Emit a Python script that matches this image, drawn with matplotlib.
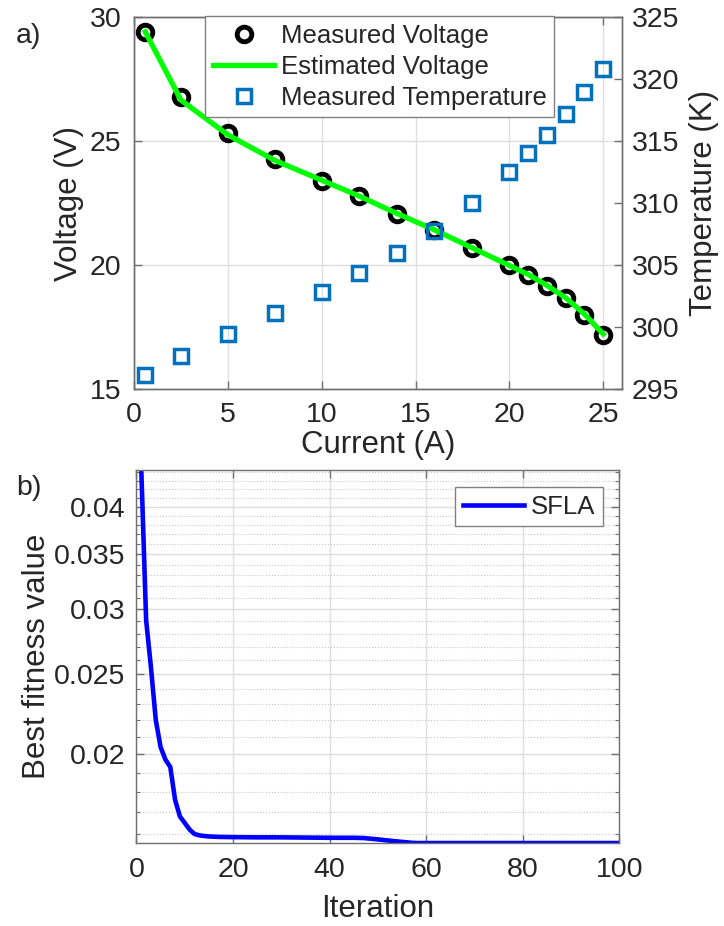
import numpy as np
import matplotlib
matplotlib.use("Agg")
import matplotlib.pyplot as plt
from matplotlib.ticker import FixedLocator, FixedFormatter, NullFormatter

plt.rcParams['font.family'] = ['Liberation Sans', 'DejaVu Sans']
plt.rcParams['text.color'] = '#262626'
plt.rcParams['axes.labelcolor'] = '#262626'
plt.rcParams['xtick.color'] = '#262626'
plt.rcParams['ytick.color'] = '#262626'

# a) polarisation data
current = [0.6, 2.5, 5, 7.5, 10, 12, 14, 16, 18, 20, 21, 22, 23, 24, 25]
v_measured = [29.38, 26.79, 25.31, 24.26, 23.40, 22.78, 22.04, 21.42, 20.67,
              20.00, 19.60, 19.15, 18.66, 17.98, 17.18]
v_estimated = [29.40, 26.65, 25.25, 24.22, 23.42, 22.78, 22.08, 21.42, 20.70,
               19.98, 19.62, 19.18, 18.68, 18.02, 17.22]
temp_measured = [296.13, 297.69, 299.44, 301.16, 302.85, 304.33, 305.94, 307.77,
                 309.97, 312.52, 314.00, 315.48, 317.15, 318.93, 320.81]

# b) convergence curve (iteration, best fitness)
iteration = [1, 2, 3, 4, 5, 6, 7, 8, 9, 10, 11, 12, 13, 14, 15, 17, 20, 25, 30,
             35, 40, 45, 47, 50, 53, 55, 57, 58, 70, 85, 100]
fitness = [0.0443, 0.0291, 0.0255, 0.0220, 0.0204, 0.0197, 0.0193, 0.0176,
           0.0168, 0.0165, 0.0162, 0.0160, 0.01594, 0.01591, 0.01589, 0.01587,
           0.01586, 0.01585, 0.01585, 0.01584, 0.01583, 0.01583, 0.01582,
           0.01576, 0.01569, 0.01565, 0.01561, 0.01560, 0.01560, 0.01560, 0.01560]

spine_col = '#707070'
grid_col = '#dedede'

fig = plt.figure(figsize=(7.24, 9.26), dpi=100)

# ---------- top panel ----------
ax1 = fig.add_axes([0.1851, 0.5799, 0.674, 0.4017])
ax2 = ax1.twinx()

h1, = ax1.plot(current, v_measured, 'o', ms=10.5, mfc='none', mec='black', mew=3.5,
               label='Measured Voltage', zorder=3)
h2, = ax1.plot(current, v_estimated, '-', color='#00ff00', lw=3.8,
               label='Estimated Voltage', zorder=4)
h3, = ax2.plot(current, temp_measured, 's', ms=9.5, mfc='none', mec='#0072bd', mew=2.5,
               label='Measured Temperature', zorder=5)

ax1.set_xlim(0, 26)
ax1.set_ylim(15, 30)
ax2.set_ylim(295, 325)
ax1.set_xticks([0, 5, 10, 15, 20, 25])
ax1.set_yticks([15, 20, 25, 30])
ax2.set_yticks([295, 300, 305, 310, 315, 320, 325])
ax1.grid(True, color=grid_col, lw=1)
ax1.set_axisbelow(True)

ax1.tick_params(axis='both', direction='in', labelsize=20.5, length=6, width=1,
                color=spine_col, top=True)
ax1.tick_params(axis='y', pad=9)
ax1.tick_params(axis='x', pad=9)
ax2.tick_params(axis='y', direction='in', labelsize=20.5, length=6, width=1,
                color=spine_col, pad=7)
for ax in (ax1, ax2):
    for s in ax.spines.values():
        s.set_color(spine_col)
        s.set_linewidth(1)

ax1.set_xlabel('Current (A)', fontsize=22.5, labelpad=2)
ax1.set_ylabel('Voltage (V)', fontsize=22.5, labelpad=4)
ax2.set_ylabel('Temperature (K)', fontsize=22.5, labelpad=7)

leg = ax2.legend(handles=[h1, h2, h3], loc='upper left',
                 bbox_to_anchor=(205 / 724, 1 - 16 / 926), bbox_transform=fig.transFigure,
                 fontsize=18.5, frameon=True, fancybox=False, framealpha=1,
                 edgecolor='#808080', handlelength=2.4, handletextpad=0.25,
                 labelspacing=0.27, borderpad=0.3, borderaxespad=0)
leg.get_frame().set_linewidth(1)

fig.text(28 / 724, 1 - 36 / 926, 'a)', fontsize=20.5, ha='center', va='center')

# ---------- bottom panel ----------
ax3 = fig.add_axes([0.1885, 0.0896, 0.667, 0.4028])
h4, = ax3.plot(iteration, fitness, '-', color='#0000ff', lw=3.3, label='SFLA')
ax3.set_yscale('log')
ax3.set_xlim(0, 100)
ax3.set_ylim(min(fitness), max(fitness))
ax3.set_xticks([0, 20, 40, 60, 80, 100])

major = [0.02, 0.025, 0.03, 0.035, 0.04]
minor = [round(0.016 + 0.001 * i, 3) for i in range(29)]
minor = [m for m in minor if m not in major]
ax3.yaxis.set_major_locator(FixedLocator(major))
ax3.yaxis.set_major_formatter(FixedFormatter(['0.02', '0.025', '0.03', '0.035', '0.04']))
ax3.yaxis.set_minor_locator(FixedLocator(minor))
ax3.yaxis.set_minor_formatter(NullFormatter())

ax3.grid(True, which='major', color=grid_col, lw=1)
ax3.grid(True, which='minor', axis='y', color='#c8c8c8', lw=0.8, ls=':')
ax3.set_axisbelow(True)
ax3.tick_params(axis='both', which='major', direction='in', labelsize=20.5, length=6,
                width=1, color=spine_col, top=True, right=True)
ax3.tick_params(axis='y', which='minor', direction='in', length=3, width=0.8,
                color=spine_col, left=True, right=True)
ax3.tick_params(axis='y', which='major', pad=8)
ax3.tick_params(axis='x', which='major', pad=10)
for s in ax3.spines.values():
    s.set_color(spine_col)
    s.set_linewidth(1)

ax3.set_xlabel('Iteration', fontsize=22.5, labelpad=8)
ax3.set_ylabel('Best fitness value', fontsize=22.5, labelpad=1)

leg2 = ax3.legend(handles=[h4], loc='upper right',
                  bbox_to_anchor=(603 / 724, 1 - 487 / 926), bbox_transform=fig.transFigure,
                  fontsize=18.5, frameon=True, fancybox=False, framealpha=1,
                  edgecolor='#808080', handlelength=2.4, handletextpad=0.25,
                  borderpad=0.3, borderaxespad=0)
leg2.get_frame().set_linewidth(1)

fig.text(29 / 724, 1 - 488 / 926, 'b)', fontsize=20.5, ha='center', va='center')

fig.savefig('out.png', dpi=100)
